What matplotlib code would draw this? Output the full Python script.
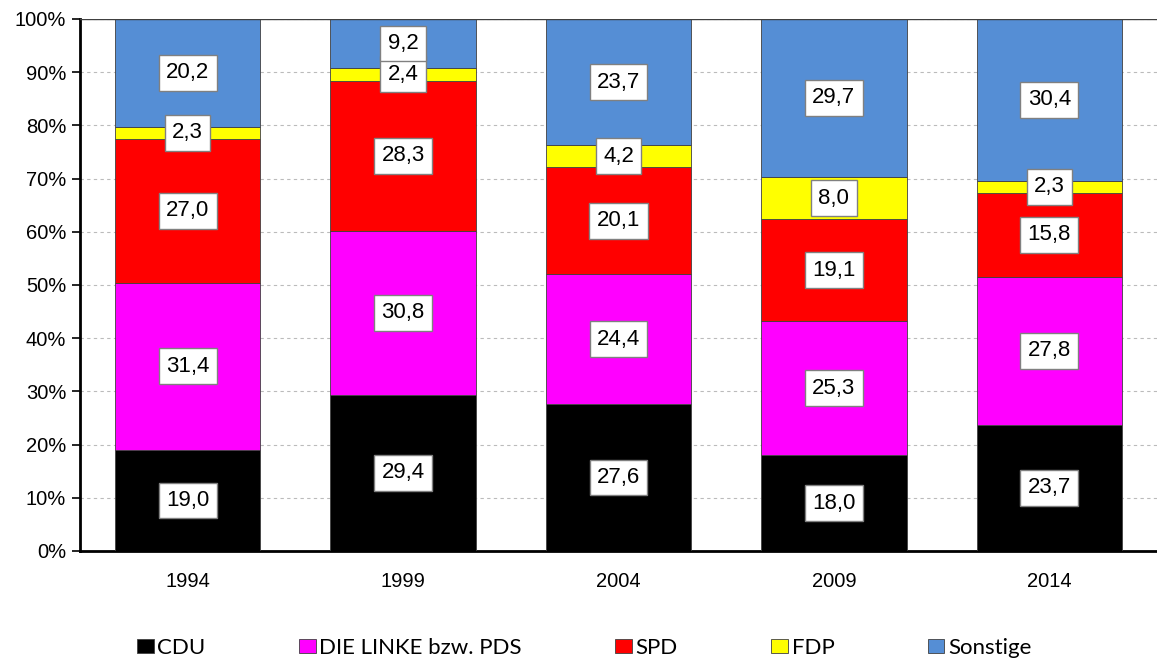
import matplotlib
matplotlib.use("Agg")
import matplotlib.pyplot as plt
import numpy as np
from matplotlib.patches import Patch

years = ["1994", "1999", "2004", "2009", "2014"]
parties = ["CDU", "DIE LINKE bzw. PDS", "SPD", "FDP", "Sonstige"]
cdu = [19.0, 29.4, 27.6, 18.0, 23.7]
linke = [31.4, 30.8, 24.4, 25.3, 27.8]
spd = [27.0, 28.3, 20.1, 19.1, 15.8]
fdp = [2.3, 2.4, 4.2, 8.0, 2.3]
sonstige = [20.2, 9.2, 23.7, 29.7, 30.4]
colors = ["#000000", "#FF00FF", "#FF0000", "#FFFF00", "#558ED5"]
yticks = [0, 10, 20, 30, 40, 50, 60, 70, 80, 90, 100]

plt.rcParams['font.family'] = ['Liberation Sans', 'DejaVu Sans']

series = np.array([cdu, linke, spd, fdp, sonstige])
totals = series.sum(axis=0)
shares = series / totals * 100

fig = plt.figure(figsize=(11.57, 6.64), dpi=100)
ax = fig.add_axes([80/1157, (664-551)/664, (1157-80)/1157, (551-19)/664])

x = np.arange(len(years))
bottom = np.zeros(len(years))
for i, name in enumerate(parties):
    ax.bar(x, shares[i], 0.675, bottom=bottom, color=colors[i],
           edgecolor="#404040", linewidth=0.6, zorder=3, label=name)
    for j in range(len(years)):
        ax.text(x[j], bottom[j] + shares[i][j] / 2,
                f"{series[i][j]:.1f}".replace(".", ","),
                ha="center", va="center", fontsize=16,
                zorder=5,
                bbox=dict(boxstyle="square,pad=0.33", fc="white", ec="#808080", lw=1))
    bottom += shares[i]

ax.set_xlim(-0.5, 4.5)
ax.set_ylim(0, 100)
ax.set_yticks(yticks)
ax.set_yticklabels([f"{v}%" for v in yticks], fontsize=14.5)
ax.set_xticks(x)
ax.set_xticklabels(years, fontsize=14.5)
ax.tick_params(axis="x", length=0, pad=15)
ax.tick_params(axis="y", length=6, width=1.2, direction="out", pad=4)
ax.yaxis.grid(True, linestyle=(0, (3, 3)), color="#BBBBBB", linewidth=0.8, zorder=0)
ax.axhline(100, color="#404040", linewidth=1, zorder=4)
for s in ["top", "right"]:
    ax.spines[s].set_visible(False)
ax.spines["left"].set_linewidth(2)
ax.spines["bottom"].set_linewidth(2)

handles = [Patch(facecolor=c, edgecolor="#404040", linewidth=0.6) for c in colors]
fig.legend(handles, parties, loc="center", bbox_to_anchor=(0.505, 1 - 648/664),
           ncol=5, frameon=False, prop={"family": "Lato", "size": 16},
           handlelength=0.75, handleheight=0.6, handletextpad=0.17, columnspacing=4.2,
           borderpad=0.2)

fig.savefig("out.png", dpi=100)
